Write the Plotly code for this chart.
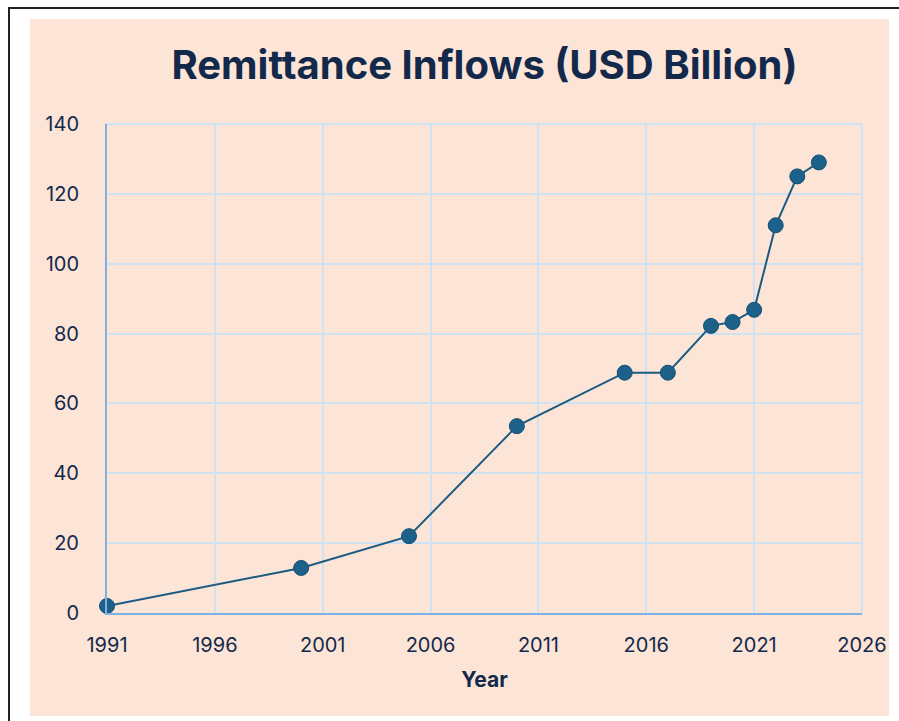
import plotly.graph_objects as go

years = [1991, 2000, 2005, 2010, 2015, 2017, 2019, 2020, 2021, 2022, 2023, 2024]
inflows = [2.0, 12.9, 22.0, 53.5, 68.8, 68.8, 82.2, 83.3, 86.8, 111.0, 125.0, 129.0]

W, H = 899, 721
L, R, T, B = 107, 862, 124, 613
pw, ph = R - L, B - T

def px(x):
    return (x - L) / pw

def py(y):
    return (B - y) / ph

navy = "#13294b"
grid = "#cfe2f3"
axis_col = "#7eb0e2"

fig = go.Figure()
fig.add_trace(go.Scatter(
    x=years, y=inflows, mode="lines+markers", cliponaxis=False,
    line=dict(color="#1a5b82", width=2),
    marker=dict(size=15, color="#1b6189", line=dict(color="#164f72", width=1)),
    showlegend=False,
))

fig.update_layout(
    width=W, height=H,
    margin=dict(l=L, r=W - R, t=T, b=H - B, pad=0),
    paper_bgcolor="white",
    plot_bgcolor="#fce4d6",
    title=dict(text="<b>Remittance Inflows (USD Billion)</b>", x=0.5, xref="paper",
               y=1 - 65 / H, yanchor="middle",
               font=dict(family="Inter", size=40, color=navy)),
    font=dict(family="Inter", color=navy),
    xaxis=dict(range=[1991, 2026], tick0=1991, dtick=5, showgrid=True,
               gridcolor=grid, gridwidth=2, showline=True, linecolor=axis_col,
               linewidth=2, zeroline=False, ticks="", ticklabelstandoff=13,
               tickfont=dict(family="Inter", size=20, color=navy),
               title=dict(text="<b>Year</b>", standoff=16,
                          font=dict(family="Inter", size=21, color=navy))),
    yaxis=dict(range=[0, 140], dtick=20, showgrid=True, gridcolor=grid,
               gridwidth=2, showline=True, linecolor=axis_col, linewidth=2,
               zeroline=False, ticks="", ticklabelstandoff=22,
               tickfont=dict(family="Inter", size=20, color=navy)),
    shapes=[
        dict(type="rect", xref="paper", yref="paper", layer="below",
             x0=px(30), x1=px(889), y0=py(716), y1=py(19),
             fillcolor="#fce4d6", line=dict(width=0)),
        dict(type="rect", xref="paper", yref="paper", layer="below",
             x0=px(9), x1=px(910), y0=py(735), y1=py(8),
             fillcolor="rgba(0,0,0,0)", line=dict(color="#222222", width=2)),
        dict(type="line", xref="paper", yref="paper", layer="below",
             x0=0, x1=1, y0=1, y1=1, line=dict(color=grid, width=2)),
        dict(type="line", xref="paper", yref="paper", layer="below",
             x0=1, x1=1, y0=0, y1=1, line=dict(color=grid, width=2)),
    ],
)

fig.write_html("out.html")
